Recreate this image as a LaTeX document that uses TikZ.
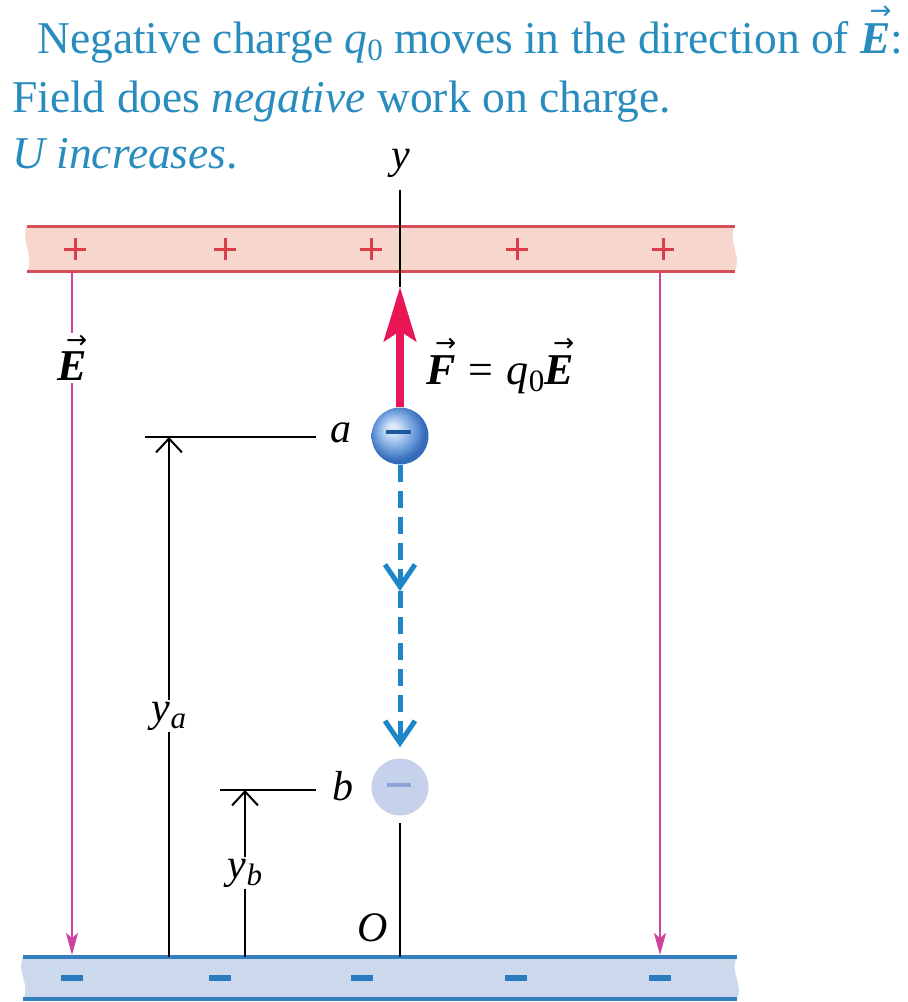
\documentclass[tikz,border=0pt]{standalone}
\usepackage{fontspec}
\setmainfont{Liberation Serif}
\newfontfamily\arrowfont{DejaVu Sans}
\usepackage{graphicx}
\usetikzlibrary{arrows.meta,calc}
\definecolor{titlec}{RGB}{40,140,190}
\definecolor{topfill}{RGB}{247,214,206}
\definecolor{topline}{RGB}{214,78,88}
\definecolor{plusc}{RGB}{218,62,74}
\definecolor{botfill}{RGB}{204,217,237}
\definecolor{botline}{RGB}{52,128,190}
\definecolor{minusc}{RGB}{42,122,190}
\definecolor{fieldc}{RGB}{206,66,158}
\definecolor{forcec}{RGB}{232,22,84}
\definecolor{motionc}{RGB}{28,134,200}
\definecolor{ballhi}{RGB}{218,232,250}
\definecolor{ballmid}{RGB}{110,158,220}
\definecolor{balledge}{RGB}{52,108,186}
\definecolor{minusa}{RGB}{30,88,160}
\definecolor{qbfill}{RGB}{198,209,235}
\definecolor{minusb}{RGB}{140,165,215}
\pgfdeclareradialshading{qball}{\pgfpoint{-7bp}{7bp}}{color(0bp)=(ballhi); color(4bp)=(ballhi); color(17bp)=(ballmid); color(25bp)=(balledge); color(50bp)=(balledge)}
\newcommand\sbz[1]{\raisebox{-0.38ex}{\fontsize{31}{31}\selectfont #1}}
\newcommand\vecb[1]{\mbox{\setbox0=\hbox{\bfseries\itshape #1}\rlap{\hbox to \wd0{\hskip0.3\wd0\raisebox{1.12\ht0}{\resizebox{0.72\wd0}{!}{\arrowfont →}}\hss}}\box0}}
\begin{document}
\begin{tikzpicture}[x=1pt,y=-1pt,
  title/.style={font=\fontsize{45.5}{53}\selectfont, text=titlec, inner sep=0pt},
  lab/.style={font=\fontsize{42}{50}\selectfont\itshape, inner sep=2pt},
  vlab/.style={font=\fontsize{44}{50}\selectfont, inner sep=2pt},
  dim/.style={line width=2pt, black},
  dimarrow/.style={dim, -{Straight Barb[length=14pt,width=26pt]}},
  field/.style={line width=2.2pt, fieldc},
  fieldarrow/.style={field, -{Stealth[length=22pt,width=12pt,inset=5pt]}},
  plate/.style={line width=3pt},
  motion/.style={line width=5pt, motionc, dash pattern=on 17pt off 9pt, -{Straight Barb[length=22pt,width=30pt,line width=5pt]}},
  force/.style={line width=8pt, forcec, -{Stealth[length=54pt,width=32pt,inset=10pt]}},
  axisline/.style={line width=2.4pt, black}
]
\useasboundingbox (0,0) rectangle (908,1002);

% title
\node[title, anchor=base west] (t1) at (37,53) {Negative charge \textit{q}\sbz{0} moves in the direction of \vecb{E}:};
\node[title, anchor=base west] (t2) at (12,112) {Field does \textit{negative} work on charge.};
\node[title, anchor=base west] (t3) at (12,168) {\textit{U increases}.};
\node[lab, anchor=base] (ylab) at (401,168) {y};

% top plate
\fill[topfill] (27,226) -- (735,226) .. controls (727,240) and (742,256) .. (735,271) -- (27,271) .. controls (35,256) and (20,240) .. (27,226) -- cycle;
\draw[plate, topline] (27,226) -- (735,226);
\draw[plate, topline] (27,271) -- (735,271);
\foreach \x in {75,225,371,517,663}
  \draw[line width=3pt, plusc] (\x-11,249) -- (\x+11,249) (\x,238) -- (\x,260);

% bottom plate
\fill[botfill] (23,957) -- (737,957) .. controls (729,970) and (744,986) .. (737,999) -- (23,999) .. controls (31,986) and (16,970) .. (23,957) -- cycle;
\draw[plate, botline, line width=4pt] (23,957) -- (737,957);
\draw[plate, botline, line width=4pt] (23,999) -- (737,999);
\foreach \x in {72,220,362,516,660}
  \draw[line width=6pt, minusc] (\x-11,978) -- (\x+11,978);

% field lines
\coordinate (fLtop) at (72,273);
\coordinate (fLbot) at (72,955);
\coordinate (fRtop) at (660,273);
\coordinate (fRbot) at (660,955);
\node[vlab] (Elab) at (72,358) {\vecb{E}};
\draw[field] (fLtop) -- (Elab.north);
\draw[fieldarrow] (Elab.south) -- (fLbot);
\draw[fieldarrow] (fRtop) -- (fRbot);

% charges
\node[circle, minimum size=57pt, inner sep=0pt, shading=qball] (qa) at (400,436) {};
\node[circle, minimum size=57pt, inner sep=0pt, fill=qbfill] (qb) at (400,787) {};
\draw[line width=4.5pt, minusa] ($(qa.center)+(-14,-4)$) -- ($(qa.center)+(11,-4)$);
\draw[line width=4pt, minusb] ($(qb.center)+(-13,-2)$) -- ($(qb.center)+(11,-2)$);

% axis
\coordinate (yaxTop) at (400,190);
\coordinate (fTip) at (400,287);
\coordinate (oBot) at (400,957);
\draw[axisline] (yaxTop) -- (fTip);
\draw[force] (qa.north) -- (fTip);
\coordinate (qbBelow) at (400,823);
\draw[axisline] (qbBelow) -- (oBot);
\node[lab] (Olab) at (373,928) {O};

% motion
\coordinate (m1) at (400,591);
\draw[motion] (qa.south) -- (m1);
\draw[motion, shorten >=11pt] (m1) -- (qb.north);

% force label
\node[vlab, anchor=west] (Flab) at (424,366) {\vecb{F}\hspace{0.3em}=\hspace{0.3em}\textit{q}\sbz{0}\vecb{E}};

% dimension y_a
\coordinate (yaBot) at (169,957);
\coordinate (yaTop) at (169,437);
\coordinate (yaL) at (145,437);
\coordinate (yaR) at (316,437);
\node[lab] (alab) at (341,433) {a};
\node[lab] (yalab) at (169,716) {y\sbz{a}};
\draw[dim] (yaL) -- (yaR);
\draw[dim] (yaBot) -- (yalab.south);
\draw[dimarrow] (yalab.north) -- (yaTop);

% dimension y_b
\coordinate (ybBot) at (245,957);
\coordinate (ybTop) at (245,790);
\coordinate (ybL) at (220,790);
\coordinate (ybR) at (316,790);
\node[lab] (blab) at (343,786) {b};
\node[lab] (yblab) at (245,873) {y\sbz{b}};
\draw[dim] (ybL) -- (ybR);
\draw[dim] (ybBot) -- (yblab.south);
\draw[dimarrow] (yblab.north) -- (ybTop);
\end{tikzpicture}
\end{document}
